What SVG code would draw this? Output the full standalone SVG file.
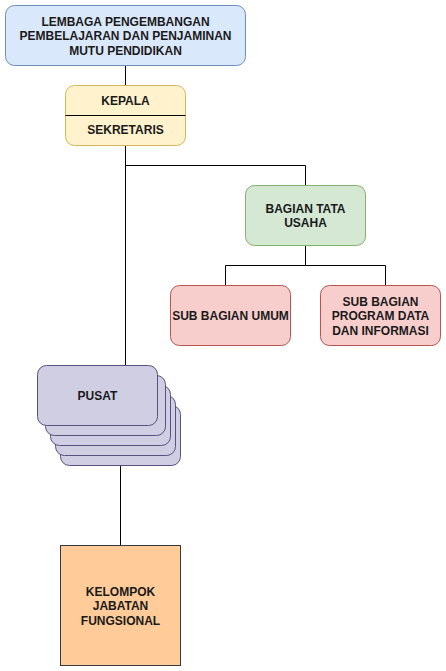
<svg xmlns="http://www.w3.org/2000/svg" width="446" height="671" viewBox="0 0 446 671">
<style>
text{font-family:"Liberation Sans",Arial,sans-serif;font-size:12px;font-weight:bold;fill:#1a1a1a;text-anchor:middle}
.c{fill:none;stroke:#000;stroke-width:1}
.blue{fill:#dae8fc;stroke:#6c8ebf}
.yel{fill:#fff2cc;stroke:#d6b656}
.grn{fill:#d5e8d4;stroke:#82b366}
.red{fill:#f8cecc;stroke:#b85450}
.pur{fill:#d0cee2;stroke:#56517e}
.org{fill:#ffcc99;stroke:#36393d}
</style>
<rect width="446" height="671" fill="#fff"/>
<g id="connectors">
<path class="c" d="M125.5 65V85"/>
<path class="c" d="M125.5 145V365"/>
<path class="c" d="M125.5 165.5H305.5V185"/>
<path class="c" d="M305.5 245V265.5"/>
<path class="c" d="M225.5 285V265.5H385.5V285"/>
<path class="c" d="M120.5 465V545"/>
</g>
<g id="lembaga">
<rect class="blue" x="5.5" y="5.5" width="240" height="60" rx="9"/>
<text x="125.5" y="26">LEMBAGA PENGEMBANGAN</text>
<text x="125.5" y="40">PEMBELAJARAN DAN PENJAMINAN</text>
<text x="125.5" y="55">MUTU PENDIDIKAN</text>
</g>
<g id="kepala">
<rect class="yel" x="65.5" y="85.5" width="120" height="60" rx="9"/>
<path d="M65.5 115.5H185.5" stroke="#000" fill="none"/>
<text x="125.5" y="105">KEPALA</text>
<text x="125.5" y="134">SEKRETARIS</text>
</g>
<g id="bagian-tata-usaha">
<rect class="grn" x="245.5" y="185.5" width="120" height="60" rx="9"/>
<text x="305.5" y="212.5">BAGIAN TATA</text>
<text x="305.5" y="227">USAHA</text>
</g>
<g id="sub-bagian-umum">
<rect class="red" x="170.5" y="285.5" width="120" height="60" rx="9"/>
<text x="230.5" y="319.5">SUB BAGIAN UMUM</text>
</g>
<g id="sub-bagian-program">
<rect class="red" x="320.5" y="285.5" width="120" height="60" rx="9"/>
<text x="380.5" y="306">SUB BAGIAN</text>
<text x="380.5" y="320">PROGRAM DATA</text>
<text x="380.5" y="334.5">DAN INFORMASI</text>
</g>
<g id="pusat">
<rect class="pur" x="60.5" y="405.5" width="120" height="60" rx="9"/>
<rect class="pur" x="55.5" y="395.5" width="120" height="60" rx="9"/>
<rect class="pur" x="50.5" y="385.5" width="120" height="60" rx="9"/>
<rect class="pur" x="45.5" y="375.5" width="120" height="60" rx="9"/>
<rect class="pur" x="37.5" y="365.5" width="120" height="60" rx="9"/>
<text x="97.5" y="399.5">PUSAT</text>
</g>
<g id="kelompok">
<rect class="org" x="60.5" y="545.5" width="120" height="120"/>
<text x="120.5" y="596">KELOMPOK</text>
<text x="120.5" y="610">JABATAN</text>
<text x="120.5" y="625">FUNGSIONAL</text>
</g>
</svg>
